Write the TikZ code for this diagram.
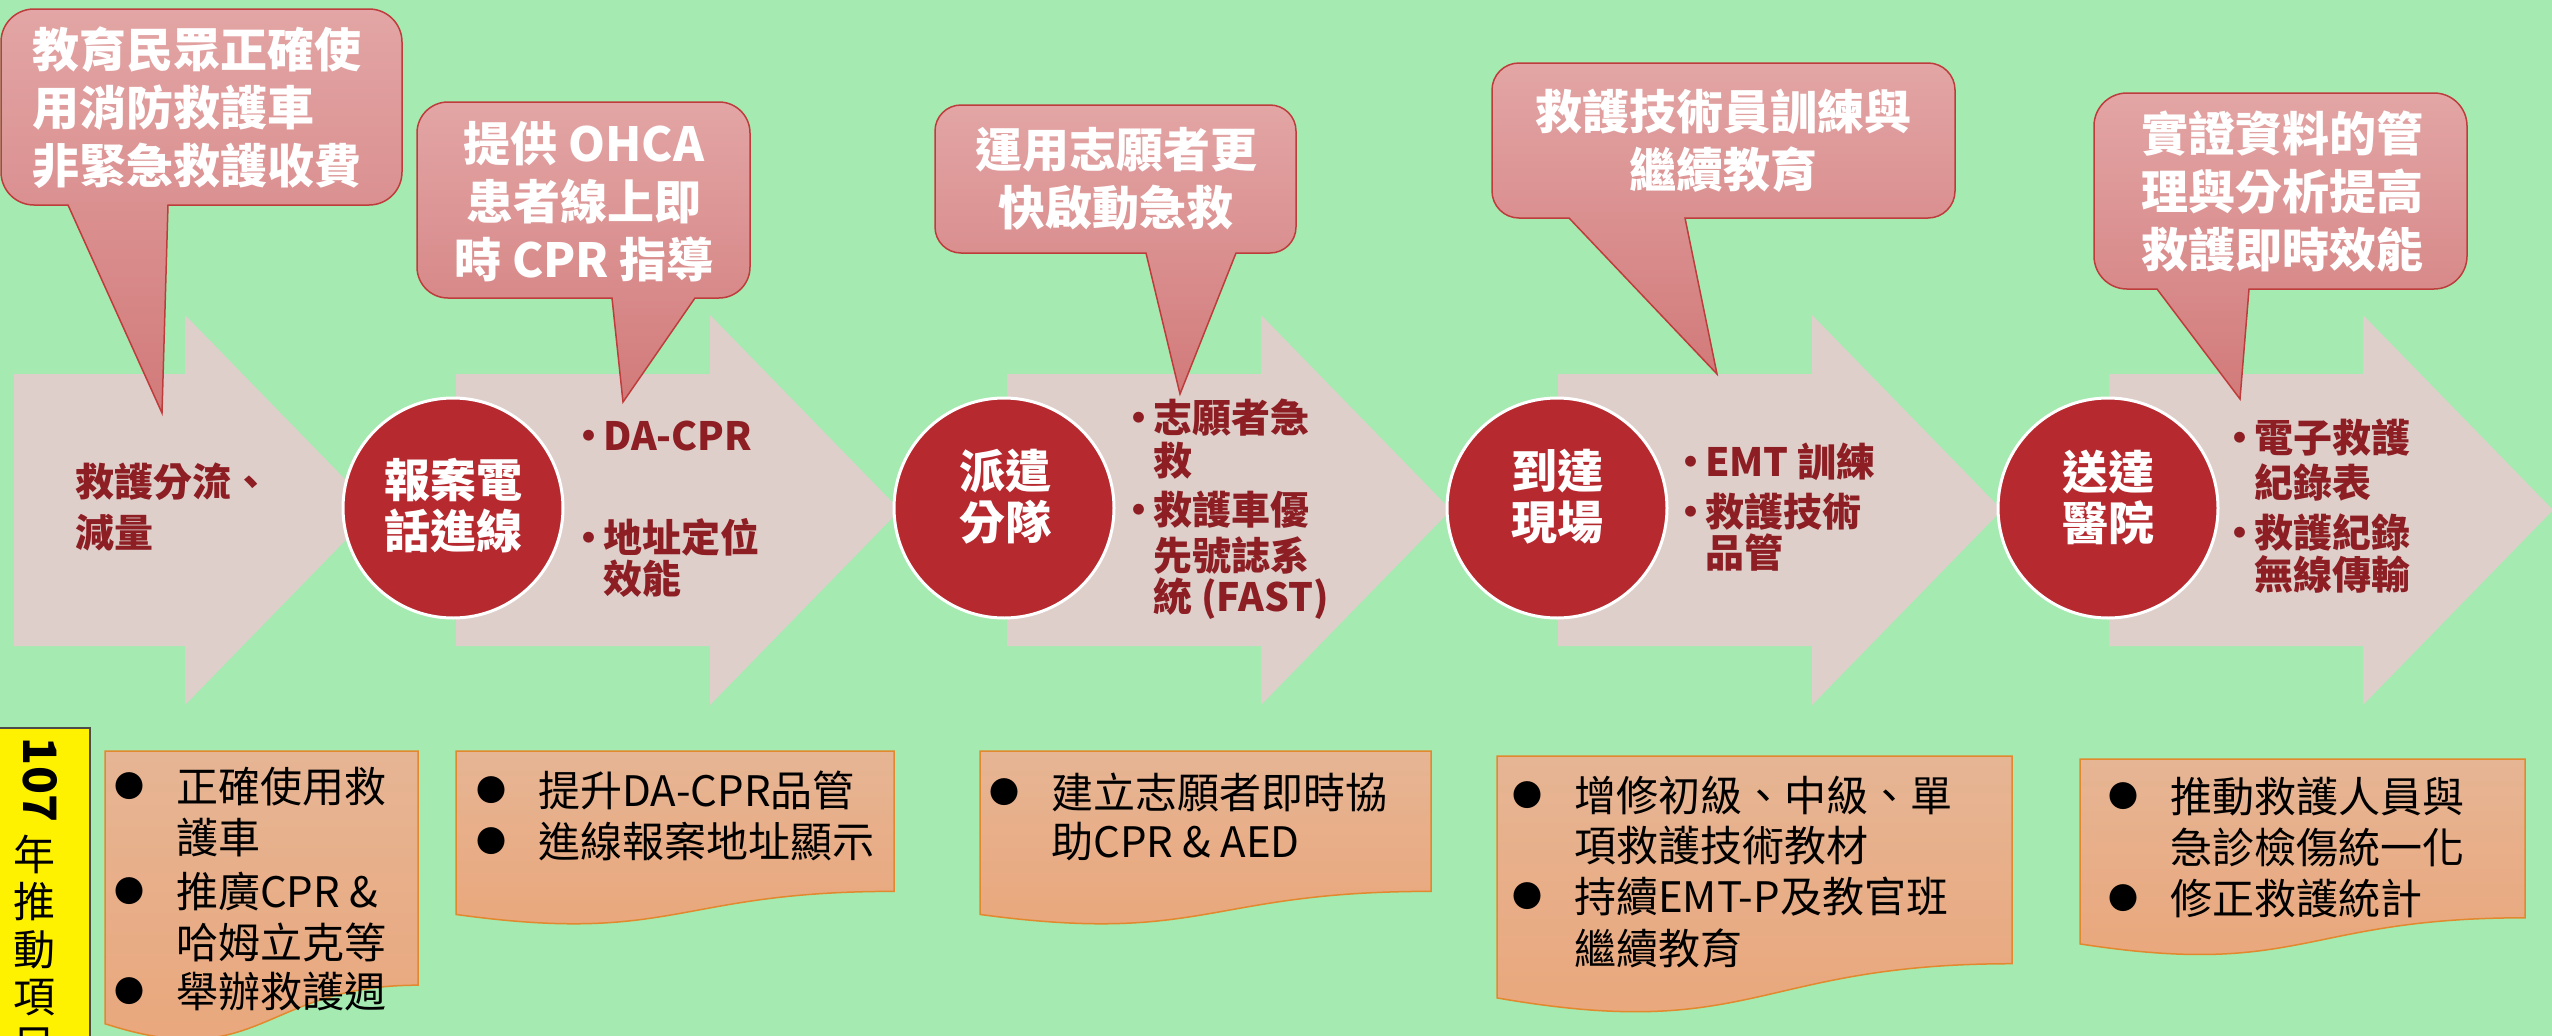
\documentclass[tikz,border=0pt]{standalone}
\usepackage{fontspec}
\setmainfont{Noto Sans CJK TC}
\definecolor{bg}{RGB}{165,234,177}
\definecolor{arrfill}{RGB}{223,207,202}
\definecolor{circ}{RGB}{181,41,47}
\definecolor{calltop}{RGB}{227,165,165}
\definecolor{callbot}{RGB}{210,122,122}
\definecolor{callline}{RGB}{190,60,60}
\definecolor{arrtext}{RGB}{140,30,36}
\definecolor{boxtop}{RGB}{230,181,148}
\definecolor{boxbot}{RGB}{234,166,122}
\definecolor{boxline}{RGB}{226,136,46}
\newcommand\abul{\llap{\makebox[28pt][c]{•}}}
\newcommand\bbul{\llap{\makebox[94pt][c]{\raisebox{5pt}{\fontsize{30}{30}\selectfont ●}}}}
\newcommand\mycallout[9]{%
 \draw[callshape] (#5,#4) -- (#7,#8) -- (#6,#4) -- ({#3-#9},#4)
  .. controls ({#3-0.448*#9},#4) and (#3,{#4-0.448*#9}) .. (#3,{#4-#9})
  -- (#3,{#2+#9}) .. controls (#3,{#2+0.448*#9}) and ({#3-0.448*#9},#2) .. ({#3-#9},#2)
  -- ({#1+#9},#2) .. controls ({#1+0.448*#9},#2) and (#1,{#2+0.448*#9}) .. (#1,{#2+#9})
  -- (#1,{#4-#9}) .. controls (#1,{#4-0.448*#9}) and ({#1+0.448*#9},#4) .. ({#1+#9},#4) -- cycle;}
\newcommand\mydocbox[4]{%
 \draw[docshape] (#1,#2) -- ({#1+#3},#2) -- ({#1+#3},{#2+0.802*#4})
  .. controls ({#1+0.5*#3},{#2+0.802*#4}) and ({#1+0.5*#3},{#2+1.1075*#4}) .. (#1,{#2+0.934*#4}) -- cycle;}
\newcommand\myarrow[3]{%
 \fill[arrfill] (#1,374) -- (#2,374) -- (#2,315) -- (#3,510) -- (#2,705) -- (#2,646) -- (#1,646) -- cycle;}
\tikzset{
 callshape/.style={top color=calltop, bottom color=callbot, draw=callline, line width=1.5pt},
 docshape/.style={top color=boxtop, bottom color=boxbot, draw=boxline, line width=1.5pt},
 cotext/.style={text=white, font=\bfseries\fontsize{47}{58}\selectfont, align=center, inner sep=0},
 circnode/.style={circle, fill=circ, draw=white, line width=3pt, minimum size=220pt, inner sep=0},
 circtext/.style={text=white, font=\bfseries\fontsize{46}{51}\selectfont, align=center, inner sep=0},
 arrtxt/.style={text=arrtext, font=\bfseries\fontsize{39}{44}\selectfont, anchor=west, inner sep=0},
 boxtxt/.style={text=black, font=\fontsize{42}{50}\selectfont, anchor=west, inner sep=0},
 ytxt/.style={text=black, font=\fontsize{42}{48}\selectfont, inner sep=0},
}
\begin{document}
\begin{tikzpicture}[x=1pt,y=-1pt]
\useasboundingbox (0,0) rectangle (2552,1036);
\clip (0,0) rectangle (2552,1036);
\fill[bg] (0,0) rectangle (2552,1036);
% process arrows
\myarrow{14}{185}{375}
\myarrow{456}{710}{900}
\myarrow{1007}{1261}{1451}
\myarrow{1558}{1812}{2002}
\myarrow{2109}{2363}{2553}
% circles
\node[circnode] (c1) at (453,508) {};
\node[circnode] (c2) at (1004,508) {};
\node[circnode] (c3) at (1557,508) {};
\node[circnode] (c4) at (2108,508) {};
\node[circtext] (c1t) at (453,506) {報案電\\話進線};
\node[circtext] (c2t) at (1005,497) {派遣\\分隊};
\node[circtext] (c3t) at (1557,497) {到達\\現場};
\node[circtext] (c4t) at (2108,497) {送達\\醫院};
% callouts
\mycallout{1}{9}{402}{205}{68}{168}{162}{413}{33}
\mycallout{417}{102}{750}{298}{612}{695}{623}{402}{31}
\mycallout{935}{105}{1296}{253}{1146}{1236}{1180}{394}{26}
\mycallout{1492}{63}{1955}{218}{1569}{1685}{1717}{374}{27}
\mycallout{2094}{93}{2467}{289}{2157}{2249}{2240}{399}{33}
\node[cotext, align=left, anchor=west] (k1) at (32,108) {教育民眾正確使\\用消防救護車\\非緊急救護收費};
\node[cotext] (k2) at (584,202) {提供 OHCA\\患者線上即\\時 CPR 指導};
\node[cotext] (k3) at (1116,179) {運用志願者更\\快啟動急救};
\node[cotext] (k4) at (1723,141) {救護技術員訓練與\\繼續教育};
\node[cotext] (k5) at (2282,192) {實證資料的管\\理與分析提高\\救護即時效能};
% arrow texts
\foreach \yy/\txt [count=\i] in {482/救護分流、, 533/減量}
  \node[arrtxt] (a1l\i) at (75,\yy) {\txt};
\foreach \yy/\txt [count=\i] in {436/{\abul DA-CPR}, 537/{\abul 地址定位}, 579/效能}
  \node[arrtxt] (a2l\i) at (603,\yy) {\txt};
\foreach \yy/\txt [count=\i] in {418/{\abul 志願者急}, 461/救, 510/{\abul 救護車優}, 556/先號誌系, 599/{統 (FAST)}}
  \node[arrtxt] (a3l\i) at (1153,\yy) {\txt};
\foreach \yy/\txt [count=\i] in {462/{\abul EMT 訓練}, 512/{\abul 救護技術}, 553/品管}
  \node[arrtxt] (a4l\i) at (1705,\yy) {\txt};
\foreach \yy/\txt [count=\i] in {438/{\abul 電子救護}, 482/紀錄表, 533/{\abul 救護紀錄}, 574/無線傳輸}
  \node[arrtxt] (a5l\i) at (2254,\yy) {\txt};
% bottom document boxes
\mydocbox{105}{751}{313}{292}
\mydocbox{456}{751}{438}{175}
\mydocbox{980}{751}{451}{175}
\mydocbox{1497}{756}{515}{259}
\mydocbox{2080}{759}{445}{198}
\foreach \yy/\txt [count=\i] in {787/{\bbul 正確使用救}, 838/護車, 892/{\bbul 推廣CPR \&}, 942/哈姆立克等, 992/{\bbul 舉辦救護週}}
  \node[boxtxt] (b1l\i) at (176,\yy) {\txt};
\foreach \yy/\txt [count=\i] in {790/{\bbul 提升DA-CPR品管}, 842/{\bbul 進線報案地址顯示}}
  \node[boxtxt] (b2l\i) at (538,\yy) {\txt};
\foreach \yy/\txt [count=\i] in {792/{\bbul 建立志願者即時協}, 842/{助CPR \& AED}}
  \node[boxtxt] (b3l\i) at (1051,\yy) {\txt};
\foreach \yy/\txt [count=\i] in {795/{\bbul 增修初級、中級、單}, 846/項救護技術教材, 897/{\bbul 持續EMT-P及教官班}, 948/繼續教育}
  \node[boxtxt] (b4l\i) at (1574,\yy) {\txt};
\foreach \yy/\txt [count=\i] in {797/{\bbul 推動救護人員與}, 848/急診檢傷統一化, 899/{\bbul 修正救護統計}}
  \node[boxtxt] (b5l\i) at (2170,\yy) {\txt};
% yellow side label
\draw[fill=yellow, draw=black!70, line width=1.5pt] (-5,728) rectangle (90,1060);
\node[text=black, font=\bfseries\fontsize{46}{46}\selectfont, rotate=-90, inner sep=0] (yr) at (40,780) {107};
\foreach \yy/\c [count=\i] in {854/年, 902/推, 950/動, 998/項, 1046/目}
  \node[ytxt] (y\i) at (34,\yy) {\c};
\end{tikzpicture}
\end{document}
